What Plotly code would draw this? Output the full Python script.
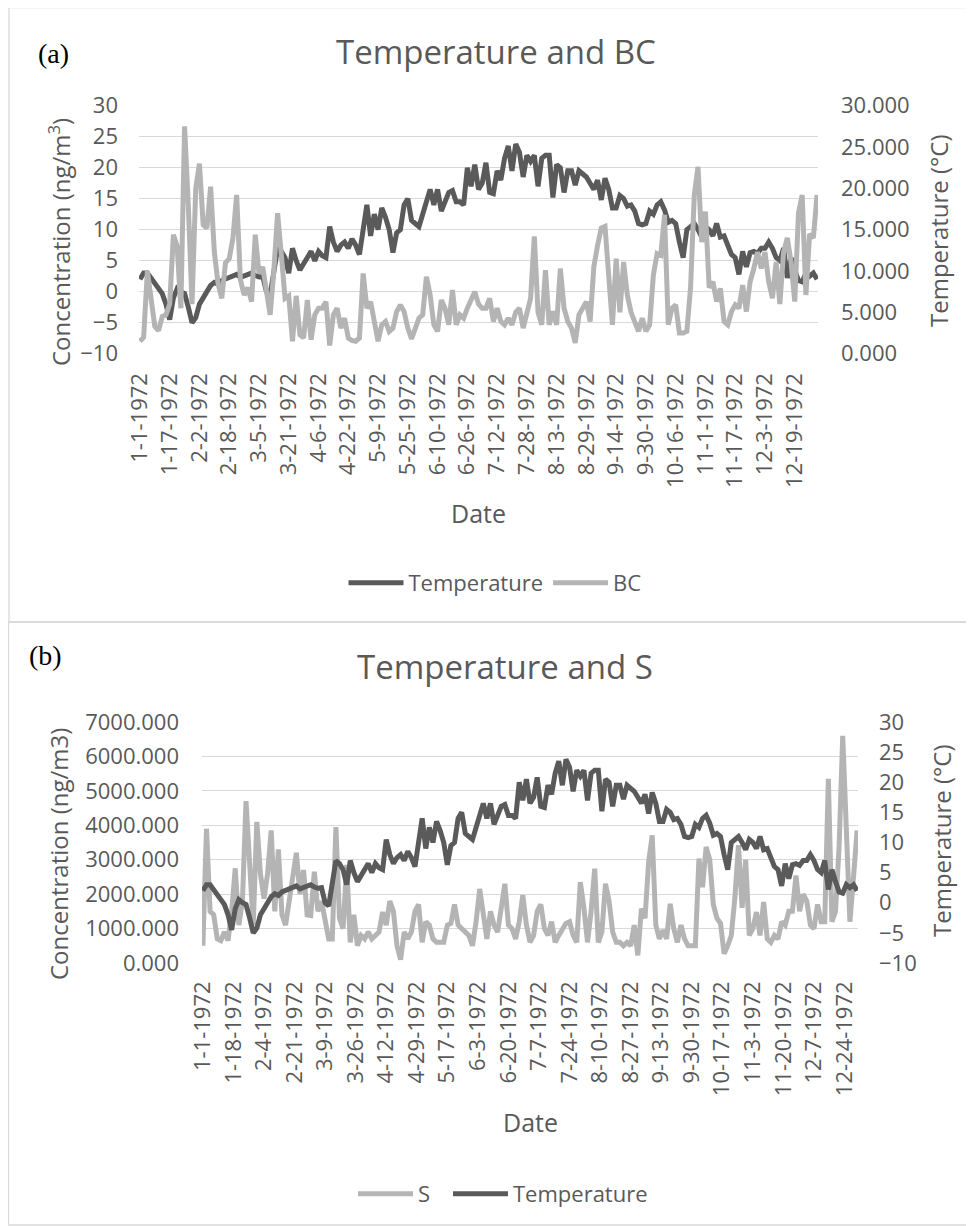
import pandas as pd
import plotly.graph_objects as go

# the page body adds an 8px margin, so the figure is laid out in page pixels minus 8
OFF = 8
W, H = 974 - OFF, 1226 - OFF

# ---- categories (one date missing in early May in the source data) ----
dates = [f"{d.month}-{d.day}-1972" for d in pd.date_range("1972-01-01", "1972-12-31")
         if not (d.month == 5 and d.day == 1)]
sample_dates = dates[0::2]          # values read roughly every second category
ticks_a = dates[0::16]
ticks_b = dates[0::17]

# ---- series values ----
temperature = [
    2.0, 3.0, 3.0, 2.2, 1.5, 0.5, -0.3, -2.0, -4.5, -1.0,
    0.5, 0.0, -0.3, -2.5, -5.0, -4.2, -2.0, -1.0, 0.0, 1.0,
    1.5, 1.2, 1.8, 2.0, 2.2, 2.5, 2.8, 2.3, 2.5, 2.8,
    3.0, 2.6, 2.4, 2.5, 0.0, -0.5, 3.0, 7.0, 6.5, 5.5,
    3.0, 7.0, 5.0, 3.5, 4.5, 5.5, 6.5, 5.0, 6.5, 5.8,
    5.5, 10.5, 8.0, 6.5, 7.5, 8.0, 7.0, 8.5, 7.5, 6.0,
    10.0, 14.0, 9.0, 12.5, 10.0, 13.5, 12.0, 10.0, 6.3, 9.5,
    10.0, 14.0, 15.0, 11.5, 11.0, 10.5, 12.5, 14.5, 16.5, 14.0,
    16.5, 13.0, 14.5, 16.0, 16.3, 14.5, 14.5, 14.0, 20.0, 17.0,
    20.5, 16.5, 17.5, 20.8, 16.0, 15.8, 19.5, 18.0, 21.5, 23.5,
    19.5, 23.8, 22.5, 18.5, 22.0, 21.0, 22.0, 17.0, 21.5, 22.0,
    22.0, 15.2, 20.5, 20.0, 16.0, 19.5, 19.5, 17.2, 19.5, 19.0,
    18.5, 17.5, 16.5, 18.0, 14.8, 18.3, 16.5, 13.5, 13.5, 15.5,
    15.0, 13.8, 14.0, 13.0, 11.0, 10.8, 11.0, 13.0, 12.5, 14.0,
    14.5, 13.2, 11.2, 11.5, 11.0, 8.0, 5.5, 10.0, 10.5, 11.0,
    10.0, 8.8, 10.5, 10.0, 9.0, 11.0, 8.8, 9.0, 7.5, 6.0,
    5.5, 2.8, 6.5, 4.0, 6.3, 6.5, 6.2, 7.0, 7.0, 8.0,
    7.0, 5.5, 5.0, 7.0, 2.2, 5.5, 3.5, 1.8, 1.6, 3.0,
    2.5, 3.0, 2.0,
]

bc = [
    1.5, 2.0, 10.0, 6.0, 3.3, 2.8, 4.5, 4.7, 6.0, 14.4,
    13.0, 5.5, 27.5, 18.0, 6.0, 20.0, 23.0, 15.6, 15.2, 20.2,
    12.3, 8.5, 6.7, 11.0, 11.5, 14.0, 19.2, 9.0, 7.1, 8.0,
    6.3, 14.4, 9.7, 10.5, 7.9, 4.7, 10.1, 17.0, 12.0, 6.7,
    7.0, 1.5, 7.0, 2.3, 1.9, 6.5, 1.7, 4.7, 5.5, 5.5,
    6.3, 1.0, 4.7, 5.5, 3.1, 4.3, 1.9, 1.6, 1.5, 1.9,
    9.7, 5.5, 6.3, 3.9, 1.5, 3.5, 3.9, 2.7, 3.1, 5.1,
    5.9, 5.1, 3.1, 1.8, 3.1, 4.3, 4.7, 9.3, 7.1, 3.5,
    2.7, 6.5, 5.5, 3.5, 7.7, 3.5, 4.7, 4.3, 5.5, 6.7,
    7.5, 6.0, 5.5, 5.5, 6.7, 3.9, 5.5, 3.9, 3.5, 4.3,
    3.5, 5.0, 5.5, 3.1, 5.0, 6.7, 14.2, 5.0, 3.5, 10.1,
    3.5, 5.1, 3.5, 10.3, 5.5, 3.9, 3.1, 1.3, 4.7, 5.5,
    6.3, 3.9, 10.5, 13.1, 15.2, 15.4, 8.7, 3.5, 11.5, 5.0,
    11.1, 7.1, 5.0, 3.9, 2.7, 4.3, 2.7, 3.5, 9.5, 12.1,
    11.9, 16.8, 3.5, 5.5, 5.9, 2.5, 2.5, 2.7, 8.0, 19.2,
    22.6, 13.5, 17.2, 8.0, 8.7, 6.3, 7.9, 3.9, 3.5, 5.1,
    5.9, 5.5, 8.3, 5.1, 8.7, 10.3, 12.3, 10.3, 12.3, 8.7,
    6.7, 11.1, 6.0, 12.3, 14.0, 11.1, 6.3, 17.0, 19.2, 7.1,
    14.5, 14.0, 19.2,
]

s_conc = [
    500, 3900, 1500, 1400, 700, 650, 900, 650, 1500, 2750,
    1100, 1800, 4700, 2600, 1100, 4100, 2600, 1870, 2600, 3850,
    1500, 3300, 1400, 1100, 1800, 2500, 3200, 2000, 2700, 1400,
    1380, 2650, 1500, 1800, 1190, 700, 700, 3950, 1300, 1000,
    2850, 600, 1400, 500, 800, 700, 900, 700, 800, 900,
    1480, 1100, 1800, 1500, 500, 100, 900, 700, 900, 1500,
    1700, 600, 1200, 1100, 700, 600, 600, 600, 1100, 1150,
    1700, 1100, 1000, 900, 800, 500, 1200, 2150, 1450, 700,
    1500, 1100, 900, 1500, 2300, 1100, 1000, 700, 1200, 1970,
    1100, 600, 800, 1500, 1700, 1000, 800, 1200, 600, 800,
    950, 1150, 1200, 800, 600, 2350, 1600, 600, 1500, 2740,
    600, 900, 2300, 1800, 900, 600, 600, 500, 600, 500,
    1100, 220, 1580, 1300, 2930, 3710, 1100, 700, 950, 700,
    1720, 1000, 600, 1100, 700, 500, 500, 500, 3030, 2200,
    3370, 3000, 1700, 1300, 1150, 270, 500, 800, 1900, 3420,
    1600, 3000, 800, 1000, 1480, 800, 1770, 700, 600, 800,
    700, 1200, 1100, 1500, 1500, 2540, 1500, 2000, 1800, 1100,
    1000, 1700, 1200, 1200, 5350, 1200, 1500, 3400, 6600, 3370,
    1200, 2500, 3850,
]

DARK = "#5a5a5a"
LIGHT = "#b4b4b4"
TXT = "#595959"
GRID = "#d9d9d9"
FONT = "Open Sans"
LW = 5


def px(xp):
    return (xp - OFF) / W


def py(yp):
    return 1 - (yp - OFF) / H


fig = go.Figure()

# Panel (a)
fig.add_trace(go.Scatter(x=sample_dates, y=temperature, name="Temperature", mode="lines",
                         line=dict(color=DARK, width=LW), xaxis="x", yaxis="y", legend="legend"))
fig.add_trace(go.Scatter(x=sample_dates, y=bc, name="BC", mode="lines",
                         line=dict(color=LIGHT, width=LW), xaxis="x", yaxis="y2", legend="legend"))
# Panel (b)
fig.add_trace(go.Scatter(x=sample_dates, y=s_conc, name="S", mode="lines", legendwidth=25,
                         line=dict(color=LIGHT, width=LW), xaxis="x2", yaxis="y3", legend="legend2"))
fig.add_trace(go.Scatter(x=sample_dates, y=temperature, name="Temperature", mode="lines",
                         line=dict(color=DARK, width=LW), xaxis="x2", yaxis="y4", legend="legend2"))

tickfont = dict(family=FONT, size=22, color=TXT)
xtickfont = dict(family=FONT, size=22, color=TXT)

common_x = dict(type="category", categoryorder="array", categoryarray=dates,
                range=[-0.5, len(dates) - 0.5], tickmode="array", tickangle=-90,
                tickfont=xtickfont, showgrid=False, zeroline=False, ticks="",
                showline=False, fixedrange=True, automargin=False)

fig.update_layout(
    template="none",
    width=W, height=H, autosize=False,
    margin=dict(l=0, r=0, t=0, b=0, pad=0),
    paper_bgcolor="white", plot_bgcolor="white",
    font=dict(family=FONT, color=TXT),
    xaxis=dict(domain=[px(139), px(818)], anchor="y", tickvals=ticks_a,
               ticklabelstandoff=14, **common_x),
    yaxis=dict(domain=[py(353.7), py(105.7)], anchor="x", range=[-10, 30], tickmode="linear",
               tick0=-10, dtick=5, showgrid=True, gridcolor=GRID, gridwidth=1.3, zeroline=False,
               tickfont=tickfont, ticklabelstandoff=20, ticks="", showline=False, automargin=False),
    yaxis2=dict(overlaying="y", side="right", anchor="x", range=[0, 30], tickmode="linear",
                tick0=0, dtick=5, tickformat=".3f", showgrid=False, zeroline=False,
                tickfont=tickfont, ticklabelstandoff=22, ticks="", showline=False, automargin=False),
    xaxis2=dict(domain=[px(202), px(858)], anchor="y3", tickvals=ticks_b,
                ticklabelstandoff=13, **common_x),
    yaxis3=dict(domain=[py(963), py(722)], anchor="x2", range=[0, 7000], tickmode="linear",
                tick0=0, dtick=1000, tickformat=".3f", showgrid=True, gridcolor=GRID, gridwidth=1.3,
                zeroline=False, tickfont=tickfont, ticklabelstandoff=22, ticks="", showline=False,
                automargin=False),
    yaxis4=dict(overlaying="y3", side="right", anchor="x2", range=[-10, 30], tickmode="linear",
                tick0=-10, dtick=5, showgrid=False, zeroline=False,
                tickfont=tickfont, ticklabelstandoff=20, ticks="", showline=False, automargin=False),
    legend=dict(orientation="h", x=px(495), xanchor="center", y=py(583), yanchor="middle",
                font=dict(family=FONT, size=22, color=TXT), bgcolor="rgba(0,0,0,0)",
                itemwidth=55, traceorder="normal"),
    legend2=dict(orientation="h", x=px(503), xanchor="center", y=py(1194), yanchor="middle",
                 font=dict(family=FONT, size=22, color=TXT), bgcolor="rgba(0,0,0,0)",
                 itemwidth=55, traceorder="normal"),
    showlegend=True,
)

annotations = [
    dict(text="Temperature and BC", x=px(496), y=py(52), font=dict(size=33)),
    dict(text="Temperature and S", x=px(505), y=py(667), font=dict(size=33)),
    dict(text="(a)", x=px(53), y=py(54), font=dict(family="Liberation Serif", size=28, color="black")),
    dict(text="(b)", x=px(45), y=py(655), font=dict(family="Liberation Serif", size=28, color="black")),
    dict(text="Concentration (ng/m<sup>3</sup>)", x=px(60), y=py(242), textangle=-90, font=dict(size=24)),
    dict(text="Temperature (°C)", x=px(938), y=py(231), textangle=-90, font=dict(size=24)),
    dict(text="Date", x=px(478), y=py(513), font=dict(size=25)),
    dict(text="Concentration (ng/m3)", x=px(58), y=py(854), textangle=-90, font=dict(size=24)),
    dict(text="Temperature (°C)", x=px(941), y=py(841), textangle=-90, font=dict(size=24)),
    dict(text="Date", x=px(530), y=py(1122), font=dict(size=25)),
]
for a in annotations:
    f = dict(family=FONT, color=TXT)
    f.update(a.pop("font"))
    fig.add_annotation(xref="paper", yref="paper", xanchor="center", yanchor="middle",
                       showarrow=False, font=f, **a)

# panel frames
fig.add_shape(type="rect", xref="paper", yref="paper", x0=px(9), x1=px(973), y0=py(622), y1=py(7.5),
              line=dict(color=GRID, width=1.3), fillcolor="rgba(0,0,0,0)", layer="below")
fig.add_shape(type="rect", xref="paper", yref="paper", x0=px(8.5), x1=px(973), y0=py(1225), y1=py(622),
              line=dict(color=GRID, width=1.3), fillcolor="rgba(0,0,0,0)", layer="below")

fig.write_html("out.html", config={"displayModeBar": False})
